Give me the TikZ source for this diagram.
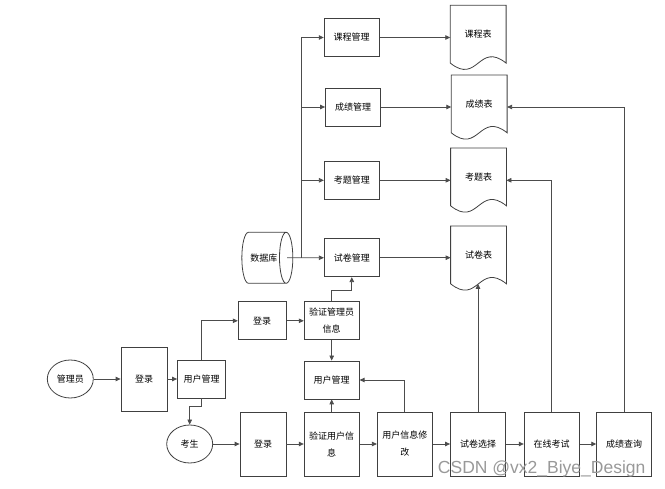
\documentclass[tikz,border=0pt]{standalone}
\usepackage{fontspec}
\setmainfont{Noto Sans CJK SC}
\newfontfamily\wmfont{Liberation Sans}
\usetikzlibrary{shapes.geometric,arrows.meta}
\begin{document}
\begin{tikzpicture}[x=1pt,y=-1pt,font=\fontsize{9}{17}\selectfont,
  >={Triangle[length=5pt,width=4.5pt]},line width=0.8pt,
  box/.style={draw=black!75,minimum width=55pt,minimum height=38pt,inner sep=1pt,align=center},
  tallbox/.style={box,minimum height=64pt},
  doc/.style={minimum width=55pt,minimum height=57pt,anchor=north},
  user/.style={draw=black!75,ellipse,minimum width=46pt,minimum height=38pt,inner sep=0pt},
  link/.style={draw=black!70,->}]
  \useasboundingbox (0,0) rectangle (665,489);
  % 管理模块与数据表
  \node[box] (kcgl) at (351.7,37.5) {课程管理};
  \node[box] (cjgl) at (353,107) {成绩管理};
  \node[box] (ktgl) at (351.8,180.3) {考题管理};
  \node[box] (sjgl) at (351.8,257.7) {试卷管理};
  \node[draw=black!75,cylinder,shape aspect=1.6,minimum width=51pt,minimum height=51pt,inner sep=0pt] (sjk) at (263.8,257.8) {数据库};
  \node[doc] (kcb) at (478.2,5.3) {课程表};
  \node[doc] (cjb) at (479.2,75) {成绩表};
  \node[doc] (ktb) at (478.5,148) {考题表};
  \node[doc] (sjb) at (478.5,226) {试卷表};
  \foreach \d in {kcb,cjb,ktb,sjb}{
    \draw[black!75] (\d.north west) -- (\d.north east) -- (\d.south east)
      .. controls +(-27.5,-22) and +(27.5,22) .. (\d.south west) -- cycle;}
  % 用户流程
  \node[user] (gly) at (70.3,379) {管理员};
  \node[box,minimum width=46pt,minimum height=64pt] (dl1) at (144,379) {登录};
  \node[box,minimum width=48pt] (yhgl1) at (201.5,379) {用户管理};
  \node[box,minimum width=48pt] (dl2) at (262.2,320.8) {登录};
  \node[box] (yzgly) at (331.7,320.8) {验证管理员\\信息};
  \node[box] (yhgl2) at (331.7,380) {用户管理};
  \node[user] (ks) at (189.7,444) {考生};
  \node[box,minimum width=46pt,minimum height=64pt] (dl3) at (263,444) {登录};
  \node[tallbox] (yzyh) at (331.7,444) {验证用户信\\息};
  \node[tallbox] (yhxg) at (404.8,444) {用户信息修\\改};
  \node[tallbox] (sjxz) at (478,444) {试卷选择};
  \node[tallbox] (zxks) at (551.7,444) {在线考试};
  \node[tallbox] (cjcx) at (624.2,444) {成绩查询};
  \coordinate (bus) at (301,257.7);
  \draw[link] ([xshift=-6pt]sjk.east) -- (sjgl);
  \foreach \n in {kcgl,cjgl,ktgl}{\draw[link] (bus) |- (\n);}
  \foreach \a/\b in {kcgl/kcb,cjgl/cjb,ktgl/ktb,sjgl/sjb}{\draw[link] (\a.east) -- (\a.east -| \b.west);}
  \draw[link] (cjcx) |- (cjgl -| cjb.east);
  \draw[link] (zxks) |- (ktgl -| ktb.east);
  \draw[link] (sjxz) -- (sjxz |- sjb.south);
  \draw[link] (yhxg) |- (yhgl2);
  \draw[link] (yzgly.north) -- ++(0,-10.7) -| (sjgl.south);
  \draw[link] (gly) -- (dl1);
  \draw[link] (dl1) -- (yhgl1);
  \draw[link] (yhgl1) |- (dl2);
  \draw[link] (yhgl1.south) -- ++(0,7.7) -| (ks);
  \draw[link] (dl2) -- (yzgly);
  \draw[link] (yzgly) -- (yhgl2);
  \draw[link] (ks) -- (dl3);
  \draw[link] (dl3) -- (yzyh);
  \draw[link] (yzyh) -- (yhgl2);
  \foreach \a/\b in {yzyh/yhxg,yhxg/sjxz,sjxz/zxks,zxks/cjcx}{\draw[link] (\a) -- (\b);}
  \node[black!40,font=\wmfont\fontsize{17.5}{17.5}\selectfont] (wm) at (541.7,468.5) {CSDN @vx2\_Biye\_Design};
\end{tikzpicture}
\end{document}
